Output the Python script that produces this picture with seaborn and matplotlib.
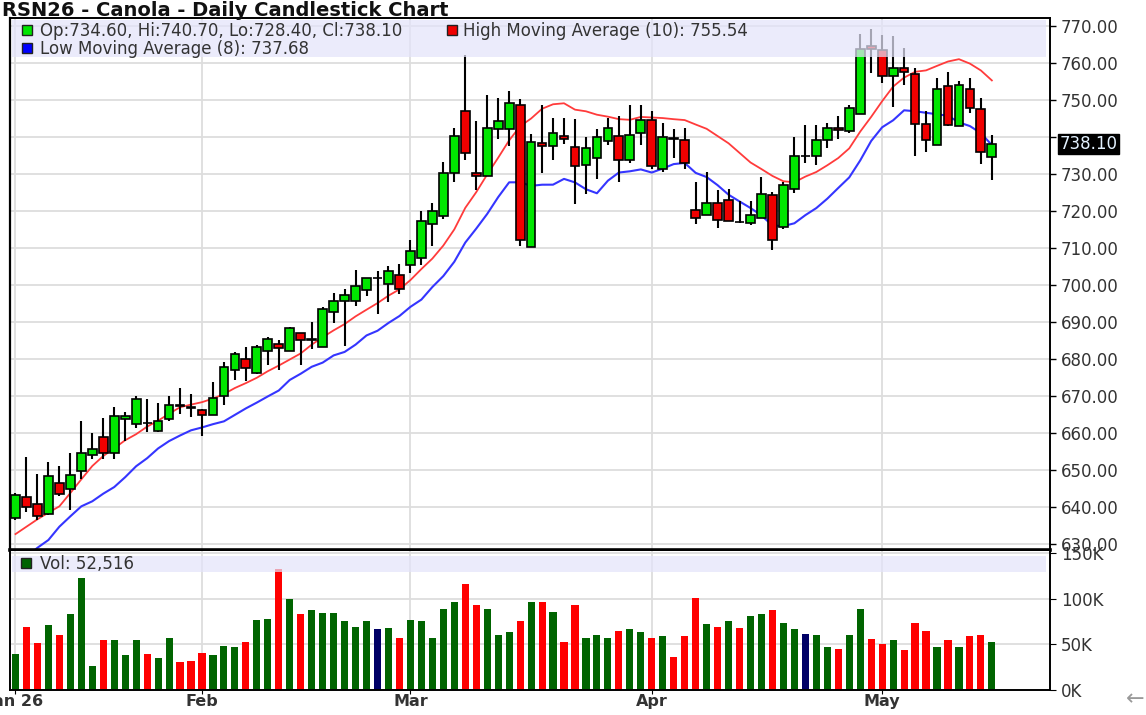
import numpy as np
import pandas as pd
import matplotlib
matplotlib.use("Agg")
import matplotlib.pyplot as plt
from matplotlib.patches import Rectangle
import seaborn as sns

# month labels on the date axis and the bar each one sits on
month_labels = ["Jan 26", "Feb", "Mar", "Apr", "May"]
month_bars = [0, 17, 36, 58, 79]

opens = [637.0, 642.7, 640.7, 638.1, 646.6, 645.0, 649.7, 654.0, 659.0, 654.7,
         663.9, 662.4, 662.8, 660.5, 663.8, 667.7, 667.0, 666.2, 665.0, 669.9,
         677.1, 680.0, 676.2, 682.1, 684.1, 682.1, 687.0, 685.1, 683.4, 692.7,
         695.6, 695.8, 698.8, 701.9, 700.3, 702.6, 705.4, 707.4, 716.5, 718.8,
         730.4, 747.1, 730.3, 729.4, 742.1, 742.1, 748.8, 710.4, 738.4, 737.5,
         740.2, 737.4, 732.5, 734.3, 739.0, 740.2, 733.7, 741.1, 744.7, 731.4,
         739.8, 739.2, 720.3, 719.0, 722.1, 723.1, 717.1, 716.9, 718.2, 724.3,
         715.8, 726.1, 735.0, 735.0, 739.3, 742.4, 741.7, 746.3, 764.6, 763.6,
         756.4, 758.7, 757.1, 743.5, 737.9, 753.8, 743.0, 753.0, 747.7, 734.6]
highs = [643.8, 653.6, 648.9, 652.2, 651.1, 654.7, 663.4, 659.9, 664.2, 667.1,
         665.6, 670.0, 669.3, 668.2, 670.0, 672.2, 670.5, 666.5, 673.9, 679.3,
         682.0, 683.2, 683.8, 685.9, 685.2, 688.6, 687.0, 690.1, 694.0, 697.9,
         699.0, 704.0, 701.9, 703.7, 705.3, 705.6, 712.1, 720.0, 722.2, 733.2,
         742.6, 762.2, 744.4, 751.5, 750.6, 752.4, 750.4, 740.8, 748.6, 745.3,
         745.3, 745.0, 739.9, 742.3, 745.3, 745.7, 748.6, 748.6, 747.1, 743.7,
         742.3, 742.6, 727.9, 730.7, 725.7, 726.1, 722.7, 722.7, 729.2, 725.2,
         727.9, 739.9, 743.2, 743.2, 743.8, 745.7, 748.8, 768.0, 769.1, 767.6,
         767.3, 764.2, 758.8, 747.1, 756.0, 757.5, 755.1, 756.0, 750.6, 740.7]
lows = [636.6, 638.8, 636.5, 637.8, 643.1, 639.1, 647.5, 653.1, 653.1, 653.1,
        657.9, 661.5, 660.4, 660.2, 663.4, 665.2, 664.3, 659.3, 665.0, 667.6,
        674.4, 674.2, 676.0, 678.5, 677.1, 682.1, 678.5, 682.6, 683.4, 689.8,
        683.5, 694.3, 697.0, 692.2, 695.4, 697.6, 703.2, 705.5, 710.7, 718.0,
        727.9, 733.7, 725.6, 729.4, 739.5, 737.5, 710.7, 710.4, 730.3, 733.8,
        738.1, 721.8, 724.7, 728.8, 737.9, 728.0, 733.0, 737.9, 731.3, 730.5,
        734.3, 731.3, 716.4, 719.0, 715.4, 717.3, 716.7, 716.3, 718.2, 709.6,
        715.2, 725.0, 733.0, 732.6, 737.0, 739.5, 741.0, 746.3, 757.3, 754.6,
        748.1, 754.2, 735.0, 736.1, 737.9, 743.0, 743.0, 746.6, 732.8, 728.4]
closes = [643.4, 640.0, 637.7, 648.5, 643.5, 648.8, 654.6, 655.7, 654.7, 664.5,
          664.5, 669.2, 662.6, 663.4, 667.7, 667.2, 666.8, 665.0, 669.5, 677.8,
          681.4, 677.5, 683.2, 685.3, 682.9, 688.3, 685.2, 685.3, 693.6, 695.7,
          697.2, 699.7, 701.9, 701.9, 703.7, 699.0, 709.2, 717.4, 720.0, 730.3,
          740.2, 735.7, 729.4, 742.4, 744.4, 749.3, 712.2, 738.7, 737.5, 741.1,
          739.6, 732.3, 737.0, 739.9, 742.4, 733.7, 740.5, 744.6, 732.2, 739.9,
          739.6, 732.9, 718.2, 722.1, 717.6, 717.4, 717.0, 718.9, 724.7, 712.2,
          727.1, 735.0, 735.0, 739.3, 742.4, 742.0, 747.8, 763.8, 763.8, 756.4,
          758.8, 757.6, 743.5, 739.3, 753.1, 743.2, 754.2, 747.9, 736.1, 738.1]

# volume in thousands, colour code per bar (G up, R down, N unchanged)
volume_k = [39.5, 69.5, 51.5, 71.0, 60.5, 83.0, 123.0, 26.0, 54.5, 54.5,
            38.0, 54.5, 39.5, 35.0, 57.5, 30.5, 32.0, 41.0, 38.0, 48.5,
            47.0, 53.0, 77.0, 78.5, 133.0, 99.6, 83.0, 87.6, 84.6, 84.6,
            75.6, 69.5, 75.6, 66.5, 68.0, 57.5, 77.0, 75.6, 57.5, 89.0,
            96.6, 116.0, 93.6, 89.0, 60.5, 63.5, 75.6, 96.6, 96.6, 86.0,
            53.0, 93.6, 57.5, 60.5, 57.5, 65.0, 66.5, 63.5, 57.5, 59.0,
            36.5, 59.0, 101.0, 72.5, 69.5, 75.6, 68.0, 81.5, 83.0, 87.6,
            74.0, 66.5, 62.0, 60.5, 47.0, 45.5, 60.5, 89.0, 56.0, 50.0,
            54.5, 44.0, 74.0, 65.0, 47.0, 54.5, 47.0, 59.0, 60.5, 52.516]
vol_code = list("GRRGRGGGRG" "GGRGGRRRGG" "GRGGRGRGGG" "GGGNGRGGGG" "GRRGGGRGRG"
                "RRGGGRGGRG" "RRRGRGRGGR" "GGNGGRGGRR" "GRRRGRGRRG")

hi_ma_start = [632.7, 634.7, 636.7, 638.5, 640.2, 643.8, 647.5, 651.1, 653.8]
lo_ma_start = [624.0, 626.5, 629.0, 631.1, 634.7, 637.5, 640.2]

# values printed in the legend
last_ohlc = "Op:734.60, Hi:740.70, Lo:728.40, Cl:738.10"
hi_ma_last = 755.54
lo_ma_last = 737.68
vol_last = 52516

W, H = 1146, 715
px = lambda x: x / W
py = lambda y: 1 - y / H

df = pd.DataFrame({"bar": np.arange(len(opens)), "open": opens, "high": highs,
                   "low": lows, "close": closes, "vol": volume_k, "code": vol_code})
hi_ma = df["high"].rolling(10).mean().to_numpy()
hi_ma[:len(hi_ma_start)] = hi_ma_start
lo_ma = df["low"].rolling(8).mean().to_numpy()
lo_ma[:len(lo_ma_start)] = lo_ma_start

plt.rcParams["font.family"] = ["DejaVu Sans"]
fig = plt.figure(figsize=(W / 100, H / 100), dpi=100)
ax = fig.add_axes([px(10), py(550), px(1050) - px(10), py(18) - py(550)])
axv = fig.add_axes([px(10), py(690), px(1050) - px(10), py(551) - py(690)])

GRID = "#dddddd"
TXT = "#333333"
FS = 12
xlim = (-0.5, 94.3)

# price panel
sns.lineplot(x=df["bar"], y=hi_ma, color="#ff3b3b", lw=1.3, ax=ax, zorder=2)
sns.lineplot(x=df["bar"], y=lo_ma, color="#3535ff", lw=1.5, ax=ax, zorder=2)
ax.vlines(df["bar"], df["low"], df["high"], color="black", lw=1.5, zorder=3)
up = df["close"] >= df["open"]
body_lo = np.minimum(df["open"], df["close"])
body_h = (df["close"] - df["open"]).abs()
ax.bar(df["bar"], body_h, bottom=body_lo, width=0.8,
       color=np.where(up, "#00e600", "#f00000"), edgecolor="black", linewidth=1.2, zorder=4)

ax.set_xlim(*xlim)
ax.set_ylim(628.4, 772.2)
ax.set_xticks(month_bars)
ax.tick_params(axis="x", length=0, labelbottom=False)
yt = np.arange(630, 771, 10)
ax.set_yticks(yt)
ax.set_yticklabels(["" if v == 740 else f"{v:.2f}" for v in yt])
ax.yaxis.tick_right()
ax.tick_params(axis="y", direction="out", length=4, width=1, labelsize=FS,
               labelcolor=TXT, pad=4)
ax.grid(True, color=GRID, lw=1.3)
ax.set_axisbelow(True)
ax.set_xlabel("")
ax.set_ylabel("")
for s, lw in {"left": 1.6, "top": 1.4, "right": 1.4, "bottom": 2.6}.items():
    ax.spines[s].set_linewidth(lw)
    ax.spines[s].set_color("black")

ax.annotate(f"{closes[-1]:.2f}", xy=(1, closes[-1]), xycoords=("axes fraction", "data"),
            xytext=(7, 0), textcoords="offset points", va="center", ha="left",
            fontsize=FS, color="#e4f2ff",
            bbox=dict(boxstyle="square,pad=0.08", fc="black", ec="black"))

# volume panel
sns.barplot(data=df, x="bar", y="vol", hue="code", native_scale=True, dodge=False,
            palette={"G": "#006400", "R": "#ff0000", "N": "#000066"},
            width=0.65, saturation=1, legend=False, ax=axv, zorder=2)
axv.set_xlim(*xlim)
axv.set_ylim(0, 152.7)
axv.set_xticks(month_bars)
axv.set_xticklabels(month_labels, fontweight="bold")
axv.tick_params(axis="x", direction="out", length=3, labelsize=11.5, labelcolor=TXT, pad=0)
axv.set_yticks([0, 50, 100, 150])
axv.set_yticklabels(["0K", "50K", "100K", "150K"])
axv.yaxis.tick_right()
axv.tick_params(axis="y", direction="out", length=4, labelsize=FS, labelcolor=TXT, pad=4)
axv.grid(True, color=GRID, lw=1.3)
axv.set_axisbelow(True)
axv.set_xlabel("")
axv.set_ylabel("")
axv.spines["top"].set_visible(False)
for s in ["left", "bottom", "right"]:
    axv.spines[s].set_linewidth(1.4)
    axv.spines[s].set_color("black")

# legend bands
def band(x0, y0, x1, y1):
    fig.add_artist(Rectangle((px(x0), py(y1)), px(x1) - px(x0), py(y0) - py(y1),
                             transform=fig.transFigure, fc="#e4e4fa", ec="none", alpha=0.72))

def swatch(x, y, color):
    fig.add_artist(Rectangle((px(x), py(y + 10)), px(10), 10 / H, transform=fig.transFigure,
                             fc=color, ec="#222222", lw=1.0))

band(12, 20, 1046, 57)
band(12, 556, 1046, 572)
swatch(22, 25, "#00e600")
swatch(22, 43, "#0000ff")
swatch(447, 25, "#f00000")
swatch(21, 558, "#006400")
fig.text(px(40), py(30.5), last_ohlc, fontsize=FS, color=TXT, va="center")
fig.text(px(40), py(48.5), f"Low Moving Average (8): {lo_ma_last:.2f}", fontsize=FS,
         color=TXT, va="center")
fig.text(px(463), py(30.5), f"High Moving Average (10): {hi_ma_last:.2f}", fontsize=FS,
         color=TXT, va="center")
fig.text(px(40), py(564), f"Vol: {vol_last:,}", fontsize=FS, color=TXT, va="center")

fig.text(px(2), py(15.5), "RSN26 - Canola - Daily Candlestick Chart", fontsize=14,
         fontweight="bold", color="#111111", va="baseline")
fig.text(px(1126), py(699), "\u2190", fontsize=16, color="#999999", va="center")

fig.savefig("out.png", dpi=100)
